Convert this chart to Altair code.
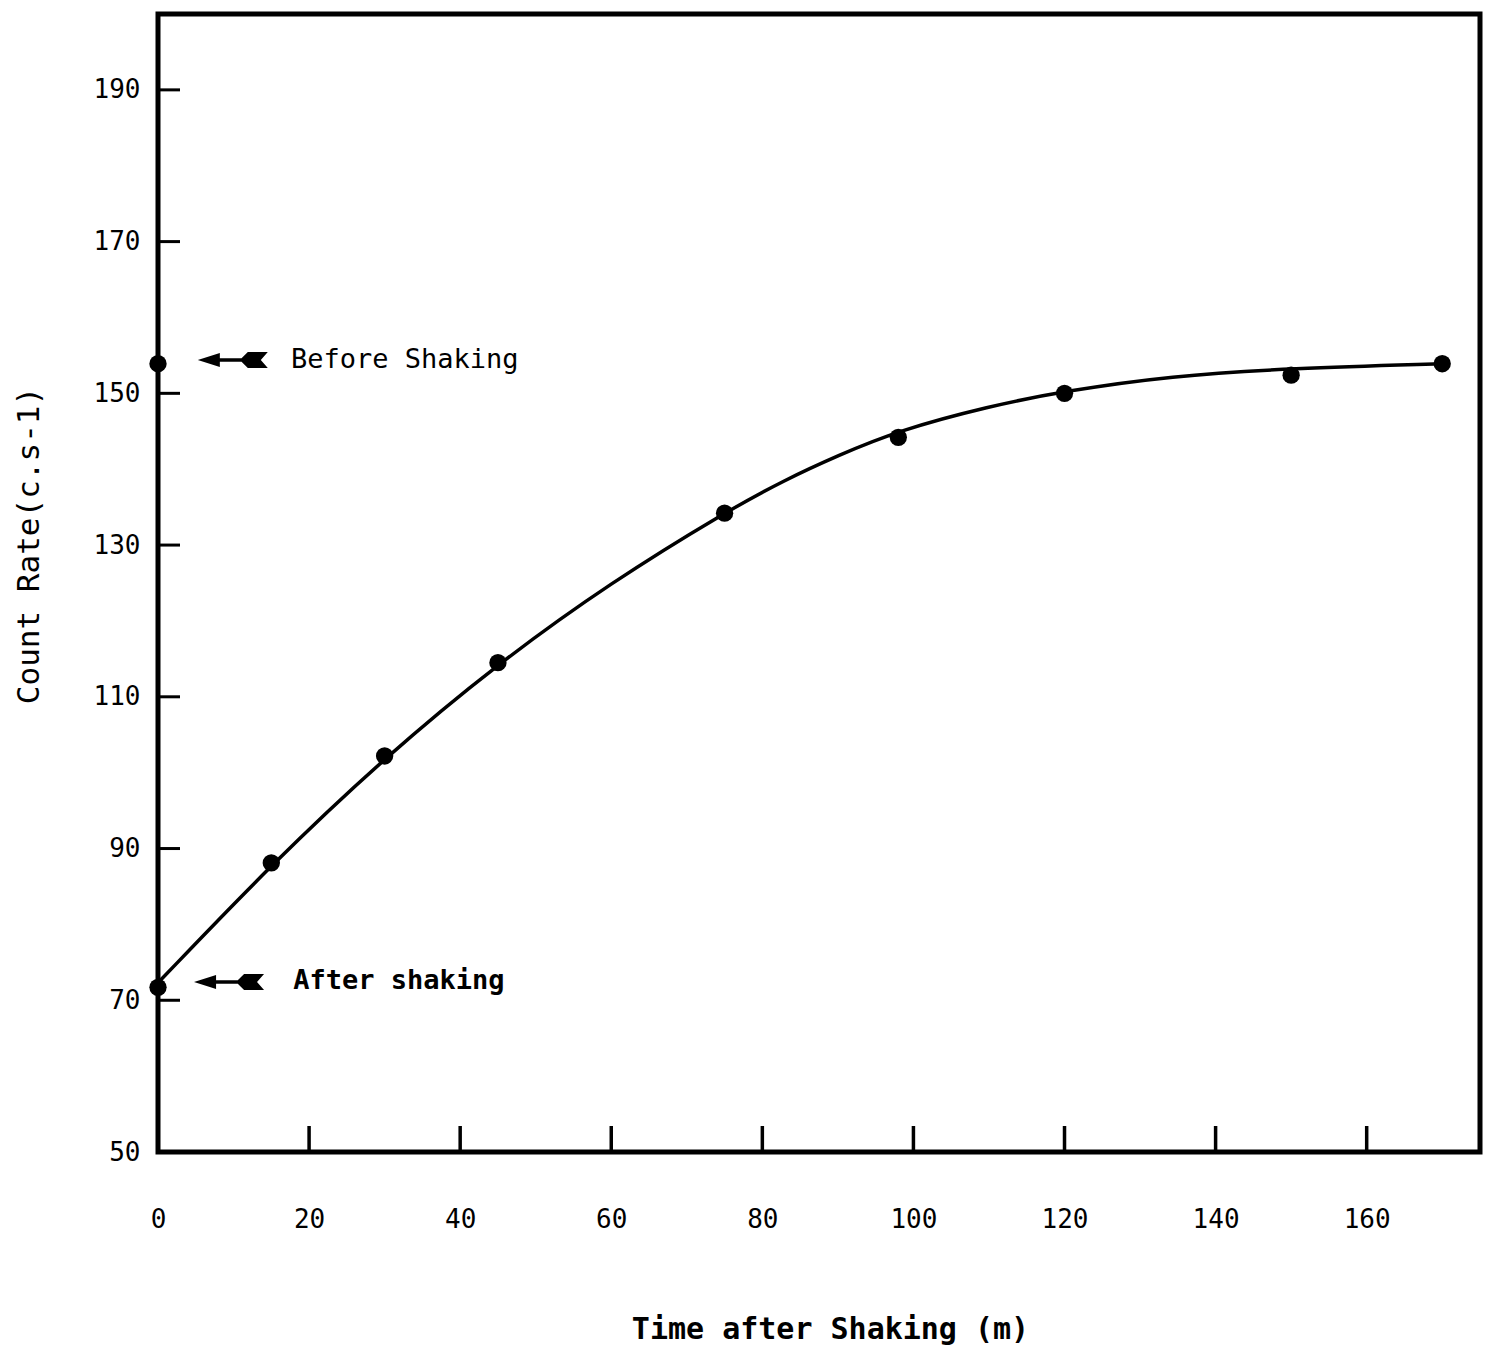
import altair as alt
import pandas as pd

# measured data points
pt_x = [0, 15, 30, 45, 75, 98, 120, 150, 170]
pt_y = [71.7, 88.1, 102.2, 114.5, 134.2, 144.2, 150.0, 152.4, 153.9]
before_x = [0]
before_y = [153.9]

# fitted smooth curve
curve_x = [0, 15, 30, 45, 60, 75, 83, 90, 98, 110, 120, 134, 150, 170]
curve_y = [72.3, 87.9, 102.0, 114.4, 125.1, 134.3, 138.6, 141.8, 145.1, 148.3, 150.3, 152.3, 153.3, 153.9]

x_ticks = [20, 40, 60, 80, 100, 120, 140, 160]
x_labels = [0] + x_ticks
y_ticks = [50, 70, 90, 110, 130, 150, 170, 190]

ann_label = ["Before Shaking", "After shaking"]
ann_arrow_x = [9.9, 9.4]
ann_arrow_y = [154.4, 72.4]
ann_text_x = [17.6, 17.9]
ann_text_y = [154.4, 72.5]
ann_weight = ["normal", "bold"]

W, H = 1322, 1138
FONT = "DejaVu Sans Mono"

pts = pd.DataFrame({"x": pt_x + before_x, "y": pt_y + before_y})
curve = pd.DataFrame({"x": curve_x, "y": curve_y})
xt = pd.DataFrame({"x": x_ticks})
yt = pd.DataFrame({"y": y_ticks})
ann = pd.DataFrame({"label": ann_label, "ax": ann_arrow_x, "ay": ann_arrow_y,
                    "tx": ann_text_x, "ty": ann_text_y, "w": ann_weight})

xs = alt.Scale(domain=[0, 175], nice=False, zero=False)
ys = alt.Scale(domain=[50, 200], nice=False, zero=False)

xaxis = alt.Axis(values=x_labels, ticks=False, domain=False, grid=False, labelFlush=False,
                 labelFont=FONT, labelFontSize=26, labelColor="black",
                 labelPadding=54, title="Time after Shaking (m)",
                 titleFont=FONT, titleFontSize=30, titleFontWeight="bold",
                 titleColor="black", titlePadding=82, titleX=672)
yaxis = alt.Axis(values=y_ticks, ticks=False, domain=False, grid=False, labelFlush=False,
                 labelFont=FONT, labelFontSize=26, labelColor="black",
                 labelPadding=18, title="Count Rate(c.s-1)",
                 titleFont=FONT, titleFontSize=31, titleFontWeight="normal",
                 titleColor="black", titlePadding=48, titleY=531)

line = alt.Chart(curve).mark_line(color="black", strokeWidth=3.5, interpolate="basis").encode(
    x=alt.X("x:Q", scale=xs, axis=xaxis),
    y=alt.Y("y:Q", scale=ys, axis=yaxis),
)

dots = alt.Chart(pts).mark_point(filled=True, color="black", size=300, opacity=1).encode(
    x=alt.X("x:Q", scale=xs), y=alt.Y("y:Q", scale=ys))

yticks = alt.Chart(yt).mark_rule(color="black", strokeWidth=3).encode(
    y=alt.Y("y:Q", scale=ys), x=alt.value(0), x2=alt.value(22))

xticks = alt.Chart(xt).mark_rule(color="black", strokeWidth=3.5).encode(
    x=alt.X("x:Q", scale=xs), y=alt.value(H), y2=alt.value(H - 26))

arrow_path = ("M -1 0 L -0.37 -0.2 L -0.37 -0.05 L 0.25 -0.05 L 0.43 -0.23 L 1 -0.23 "
              "L 0.8 0 L 1 0.23 L 0.43 0.23 L 0.25 0.05 L -0.37 0.05 L -0.37 0.2 Z")
arrows = alt.Chart(ann).mark_point(shape=arrow_path, filled=True, color="black",
                                   size=4900, opacity=1, strokeWidth=0).encode(
    x=alt.X("ax:Q", scale=xs), y=alt.Y("ay:Q", scale=ys))

texts_b = alt.Chart(ann[ann.w == "normal"]).mark_text(
    align="left", baseline="middle", font=FONT, fontSize=27, color="black").encode(
    x=alt.X("tx:Q", scale=xs), y=alt.Y("ty:Q", scale=ys), text="label:N")
texts_a = alt.Chart(ann[ann.w == "bold"]).mark_text(
    align="left", baseline="middle", font=FONT, fontSize=27, fontWeight="bold", color="black").encode(
    x=alt.X("tx:Q", scale=xs), y=alt.Y("ty:Q", scale=ys), text="label:N")

chart = alt.layer(line, dots, yticks, xticks, arrows, texts_b, texts_a).properties(
    width=W, height=H,
    autosize=alt.AutoSizeParams(type="none"),
    padding={"left": 158, "top": 14, "right": 6, "bottom": 205},
    background="white",
).configure_view(stroke="black", strokeWidth=5)

chart.save("out.html", embed_options={"renderer": "svg", "actions": False})
